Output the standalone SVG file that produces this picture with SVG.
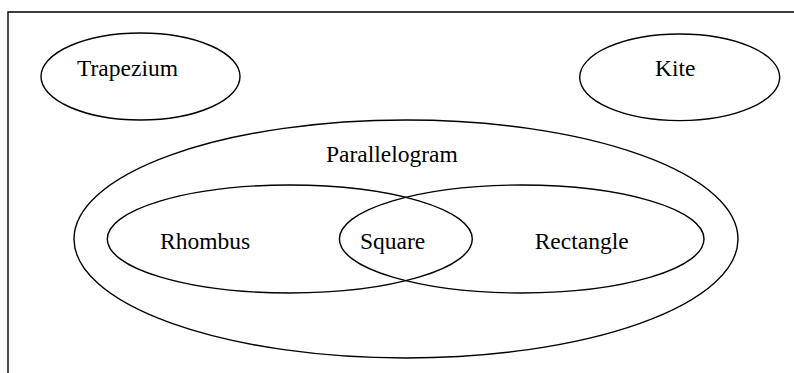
<svg xmlns="http://www.w3.org/2000/svg" width="794" height="373" viewBox="0 0 794 373">
<style>
.s{fill:none;stroke:#000;stroke-width:1.4}
.t{font-family:"Liberation Serif","Times New Roman",serif;font-size:23.5px;fill:#000}
</style>
<rect width="794" height="373" fill="#fff"/>
<path class="s" d="M8,373 V12 H794"/>
<g id="trapezium"><ellipse class="s" cx="140.5" cy="76.5" rx="99.5" ry="43.5"/><text class="t" x="77" y="76">Trapezium</text></g>
<g id="kite"><ellipse class="s" cx="679.7" cy="77.3" rx="100" ry="43.3"/><text class="t" x="655" y="76">Kite</text></g>
<g id="parallelogram"><ellipse class="s" cx="406" cy="239" rx="332" ry="119"/><text class="t" x="326" y="161.5">Parallelogram</text></g>
<g id="rhombus"><ellipse class="s" cx="289.8" cy="239" rx="182.5" ry="54"/><text class="t" x="160" y="249">Rhombus</text></g>
<g id="rectangle"><ellipse class="s" cx="521.7" cy="239" rx="182.3" ry="54"/><text class="t" x="534.7" y="249">Rectangle</text></g>
<g id="square"><text class="t" x="360" y="249">Square</text></g>
<g id="connectors"></g>
</svg>
